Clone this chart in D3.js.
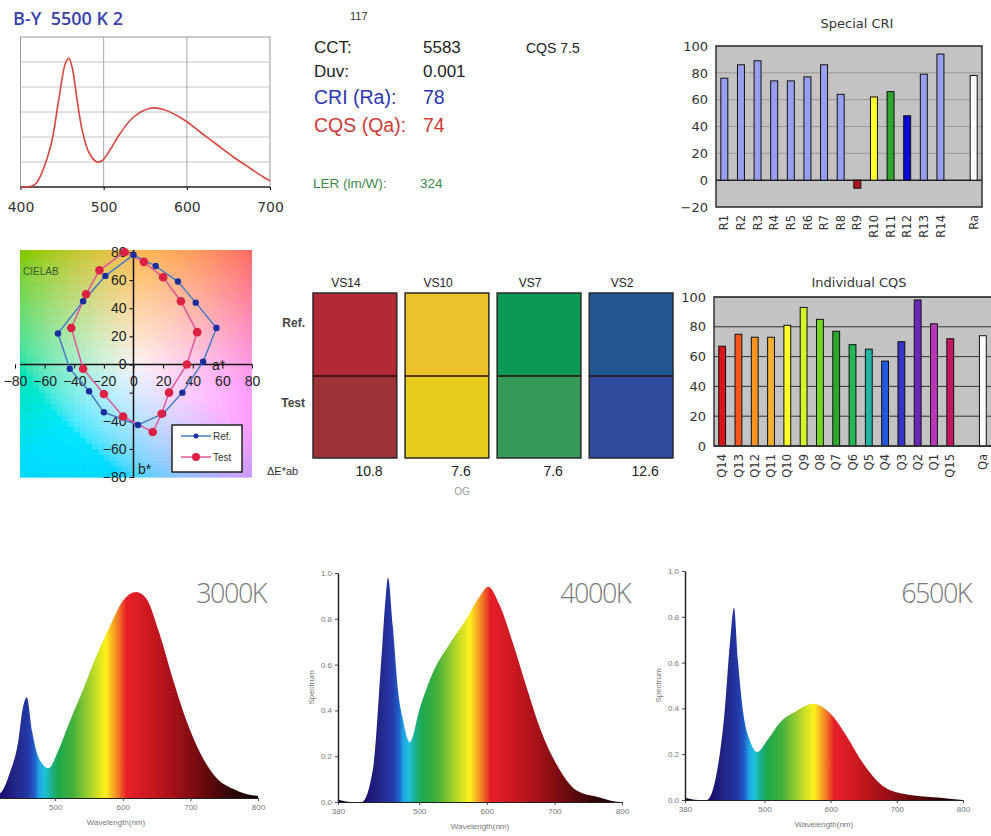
<!DOCTYPE html>
<html lang="en">
<head>
<meta charset="utf-8">
<title>B-Y 5500 K 2</title>
<script src="https://cdn.jsdelivr.net/npm/d3@7"></script>
<style>
  body { margin: 0; background: #fff; }
  svg { display: block; background: #fff; }
  text { font-family: "Liberation Sans", Arial, sans-serif; }
</style>
</head>
<body>
<svg id="chart" width="991" height="836"></svg>
<script>
// ---- data ----
// measured spectrum of the B-Y 5500 K source (relative)
var specWl  = [400, 415, 420, 436, 446, 454, 458, 462, 468, 474, 482, 492, 498, 508, 520, 536, 556, 572, 596, 616, 636, 656, 676, 692, 700];
var specVal = [0, 0.01, 0.04, 0.32, 0.70, 0.99, 1.03, 0.96, 0.70, 0.46, 0.28, 0.20, 0.21, 0.30, 0.43, 0.56, 0.63, 0.62, 0.54, 0.44, 0.34, 0.24, 0.15, 0.08, 0.05];

var metricLabels = ["CCT:", "Duv:", "CRI (Ra):", "CQS (Qa):"];
var metricValues = ["5583", "0.001", "78", "74"];
var lerValue = "324";
var cqsVersion = "CQS 7.5";

var criNames  = ["R1", "R2", "R3", "R4", "R5", "R6", "R7", "R8", "R9", "R10", "R11", "R12", "R13", "R14", "Ra"];
var criValues = [76, 86, 89, 74, 74, 77, 86, 64, -6, 62, 66, 48, 79, 94, 78];
var criTicks  = [-20, 0, 20, 40, 60, 80, 100];

var cqsNames  = ["Q14", "Q13", "Q12", "Q11", "Q10", "Q9", "Q8", "Q7", "Q6", "Q5", "Q4", "Q3", "Q2", "Q1", "Q15", "Qa"];
var cqsValues = [67, 75, 73, 73, 81, 93, 85, 77, 68, 65, 57, 70, 98, 82, 72, 74];
var cqsTicks  = [0, 20, 40, 60, 80, 100];

// CIELAB a*, b* of the 15 CQS samples
var refA  = [0, 15, 30, 42, 56, 47, 33, 20, 3, -20, -30, -43, -51, -34, -19];
var refB  = [78, 70, 59, 44, 26, 2, -20, -35, -43, -34, -19, -3, 22, 45, 63];
var testA = [-6, 7, 20, 32, 43, 36, 24, 19, 13, -7, -20, -34, -42, -32, -23];
var testB = [80, 73, 62, 45, 23, 0, -20, -35, -48, -37, -21, -3, 26, 50, 67];
var labTicks = [-80, -60, -40, -20, 0, 20, 40, 60, 80];

var vsNames = ["VS14", "VS10", "VS7", "VS2"];
var vsDeltaE = ["10.8", "7.6", "7.6", "12.6"];

// three reference LED spectra
var wl3000  = [380, 418, 433, 445, 452, 458, 466, 475, 490, 505, 521, 541, 561, 581, 600, 620, 635, 654, 674, 694, 714, 738, 763, 798, 800];
var val3000 = [0, 0.02, 0.11, 0.24, 0.39, 0.44, 0.29, 0.18, 0.13, 0.21, 0.33, 0.47, 0.62, 0.75, 0.86, 0.90, 0.87, 0.72, 0.52, 0.34, 0.20, 0.09, 0.04, 0.01, 0.01];
var wl4000  = [380, 400, 415, 432, 444, 451, 454, 461, 469, 476, 486, 501, 521, 545, 570, 590, 602, 619, 639, 659, 679, 704, 733, 767, 797, 800];
var val4000 = [0.01, 0, 0, 0.15, 0.62, 0.91, 0.98, 0.77, 0.48, 0.36, 0.26, 0.41, 0.57, 0.69, 0.80, 0.90, 0.94, 0.86, 0.69, 0.50, 0.32, 0.16, 0.05, 0.02, 0, 0];
var wl6500  = [380, 400, 413, 428, 440, 448, 454, 460, 468, 478, 489, 504, 524, 549, 573, 599, 624, 649, 675, 705, 766, 800];
var val6500 = [0.01, 0, 0, 0.12, 0.39, 0.69, 0.84, 0.61, 0.38, 0.26, 0.21, 0.26, 0.34, 0.39, 0.42, 0.38, 0.28, 0.16, 0.07, 0.03, 0.01, 0];
var cctLabels = ["3000K", "4000K", "6500K"];

// ---- styles ----
var criColors = ["#9a9ef0", "#9a9ef0", "#9a9ef0", "#9a9ef0", "#9a9ef0", "#9a9ef0", "#9a9ef0", "#9a9ef0",
                 "#b0141e", "#ffff30", "#2ea42e", "#0a0ad8", "#9a9ef0", "#9a9ef0", "#ffffff"];
var cqsColors = ["#d8141c", "#f2561c", "#f59422", "#f5b030", "#ffff26", "#d4f52a", "#7ad626", "#2aa62a",
                 "#22b856", "#20b4a6", "#2458dc", "#3434c8", "#6a28b8", "#b838b8", "#c41462", "#ffffff"];
var vsRefColors  = ["#b12a36", "#ecc22a", "#0a9a56", "#235792"];
var vsTestColors = ["#9d3338", "#e5cc1d", "#379a58", "#2e4b9e"];
var rainbow = [[380, "#0a0520"], [420, "#1a1070"], [445, "#222a8c"], [460, "#2438a8"], [470, "#2060c8"],
               [477, "#1ea8e6"], [485, "#20c0d8"], [495, "#1ab088"], [505, "#1ea84a"], [525, "#40b03c"],
               [545, "#8cc830"], [562, "#d0e024"], [575, "#fff01e"], [585, "#f8b020"], [595, "#f07028"],
               [605, "#e82028"], [640, "#cc1820"], [680, "#a01018"], [720, "#6a0a0e"], [760, "#300606"], [800, "#100202"]];

var svg = d3.select("#chart");
var defs = svg.append("defs");

// ===== top-left spectrum =====
(function() {
  var x = d3.scaleLinear().domain([400, 700]).range([20.5, 270]);
  var y = d3.scaleLinear().domain([0, 1.2]).range([187, 37]);
  var g = svg.append("g");

  svg.append("text").attr("x", 13).attr("y", 25).attr("fill", "#3a3fb0")
    .style("font-size", "18px").style("font-weight", "600").style("font-family", "'Open Sans', sans-serif")
    .style("white-space", "pre").text("B-Y  5500 K 2");

  g.append("rect").attr("x", x(400)).attr("y", y(1.2)).attr("width", x(700) - x(400)).attr("height", y(0) - y(1.2))
    .attr("fill", "#fff").attr("stroke", "#999");
  g.selectAll(".hg").data([0.2, 0.4, 0.6, 0.8, 1.0]).join("line")
    .attr("x1", x(400)).attr("x2", x(700)).attr("y1", d => y(d)).attr("y2", d => y(d)).attr("stroke", "#c4c4c4");
  g.selectAll(".vg").data([500, 600]).join("line")
    .attr("x1", d => x(d)).attr("x2", d => x(d)).attr("y1", y(1.2)).attr("y2", y(0)).attr("stroke", "#a8a8a8");
  g.append("line").attr("x1", x(400)).attr("x2", x(700)).attr("y1", y(0)).attr("y2", y(0)).attr("stroke", "#333").attr("stroke-width", 1.5);

  var ax = g.append("g").attr("transform", "translate(0," + y(0) + ")")
    .call(d3.axisBottom(x).tickValues([400, 500, 600, 700]).tickSize(3).tickPadding(12));
  ax.select(".domain").remove();
  ax.selectAll("text").style("font-size", "14px").attr("fill", "#333").style("font-family", "'DejaVu Sans', sans-serif");

  g.append("path").datum(specWl.map((w, i) => [w, specVal[i]]))
    .attr("d", d3.line().x(d => x(d[0])).y(d => y(d[1])).curve(d3.curveCatmullRom))
    .attr("fill", "none").attr("stroke", "#d9463f").attr("stroke-width", 1.6);
})();

// ===== metrics text =====
(function() {
  var g = svg.append("g").style("font-family", "'DejaVu Sans', sans-serif");
  var colors = ["#222", "#222", "#2c35b5", "#d03a3a"];
  var sizes = [17, 17, 19.5, 19.5];
  var ys = [53, 77, 104, 132];
  g.append("text").attr("x", 350).attr("y", 20).style("font-size", "11px").attr("fill", "#333").text("117");
  metricLabels.forEach(function(lbl, i) {
    g.append("text").attr("x", 314).attr("y", ys[i]).style("font-size", sizes[i] + "px").attr("fill", colors[i]).text(lbl);
    g.append("text").attr("x", 423).attr("y", ys[i]).style("font-size", sizes[i] + "px").attr("fill", colors[i]).text(metricValues[i]);
  });
  g.append("text").attr("x", 526).attr("y", 53).style("font-size", "14px").attr("fill", "#222").text(cqsVersion);
  g.append("text").attr("x", 313).attr("y", 188).style("font-size", "13.5px").attr("fill", "#3c8a4c").text("LER (lm/W):");
  g.append("text").attr("x", 420).attr("y", 188).style("font-size", "13.5px").attr("fill", "#3c8a4c").text(lerValue);
})();

// ===== bar chart helper =====
function barChart(opt) {
  var g = svg.append("g");
  var keys = opt.names.slice(0, -1).concat([" "], opt.names.slice(-1));
  var x = d3.scaleBand().domain(keys).range([opt.left, opt.right]).paddingInner(0.58).paddingOuter(0.29);
  var y = d3.scaleLinear().domain(opt.domain).range([opt.bottom, opt.top]);

  g.append("text").attr("x", opt.titleX).attr("y", opt.titleY).attr("text-anchor", "middle")
    .style("font-size", "13px").style("font-family", "'DejaVu Sans', sans-serif").attr("fill", "#333").text(opt.title);

  g.append("rect").attr("x", opt.left).attr("y", opt.top).attr("width", opt.right - opt.left).attr("height", opt.bottom - opt.top)
    .attr("fill", "#c3c3c3");
  g.selectAll(".grid").data(opt.ticks).join("line")
    .attr("x1", opt.left).attr("x2", opt.right).attr("y1", d => y(d)).attr("y2", d => y(d))
    .attr("stroke", d => d === 0 ? "#222" : opt.gridColor).attr("stroke-width", d => d === 0 ? 1.5 : 1);

  g.selectAll(".bar").data(opt.values).join("rect")
    .attr("x", (d, i) => x(opt.names[i]))
    .attr("width", x.bandwidth())
    .attr("y", d => y(Math.max(0, d)))
    .attr("height", d => Math.abs(y(d) - y(0)))
    .attr("fill", (d, i) => opt.colors[i]).attr("stroke", "#111").attr("stroke-width", 1);

  var border = g.append("path").attr("fill", "none").attr("stroke", "#333").attr("stroke-width", 1.5);
  border.attr("d", opt.openRight
    ? "M" + opt.right + "," + opt.top + "H" + opt.left + "V" + opt.bottom + "H" + opt.right
    : "M" + opt.left + "," + opt.top + "H" + opt.right + "V" + opt.bottom + "H" + opt.left + "Z");

  var ay = g.append("g").attr("transform", "translate(" + opt.left + ",0)")
    .call(d3.axisLeft(y).tickValues(opt.ticks).tickSize(0).tickPadding(8));
  ay.select(".domain").remove();
  ay.selectAll("text").style("font-size", "13px").style("font-family", "'DejaVu Sans', sans-serif").attr("fill", "#333");

  var ax = g.append("g").attr("transform", "translate(0," + opt.bottom + ")")
    .call(d3.axisBottom(x).tickSize(0));
  ax.select(".domain").remove();
  ax.selectAll("text")
    .attr("transform", "rotate(-90)")
    .attr("x", -8).attr("y", 0).attr("dy", "0.36em")
    .attr("text-anchor", "end")
    .style("font-size", "11.5px").style("font-family", "'DejaVu Sans', sans-serif").attr("fill", "#333");
}

barChart({ names: criNames, values: criValues, colors: criColors, ticks: criTicks, domain: [-20, 100],
  left: 716, right: 982, top: 46, bottom: 207, title: "Special CRI", titleX: 857, titleY: 28, gridColor: "#999" });
barChart({ names: cqsNames, values: cqsValues, colors: cqsColors, ticks: cqsTicks, domain: [0, 100],
  left: 714, right: 991, top: 297, bottom: 446, title: "Individual CQS", titleX: 859, titleY: 287, gridColor: "#333", openRight: true });

// ===== CIELAB =====
(function() {
  var x = d3.scaleLinear().domain([-80, 80]).range([15, 252]);
  var y = d3.scaleLinear().domain([-80, 80]).range([477, 252]);
  var g = svg.append("g");

  defs.append("clipPath").attr("id", "labclip").append("rect")
    .attr("x", 20).attr("y", 250).attr("width", 232).attr("height", 228);
  var cells = [];
  for (var a = -80; a < 80; a += 4) for (var b = -80; b < 84; b += 4) cells.push([a + 2, b + 2]);
  var rot = -14 * Math.PI / 180;
  g.append("g").attr("clip-path", "url(#labclip)").selectAll("rect").data(cells).join("rect")
    .attr("x", d => x(d[0] - 2)).attr("y", d => y(d[1] + 2))
    .attr("width", x(4) - x(0) + 0.6).attr("height", y(0) - y(4) + 0.6)
    .attr("fill", function(d) {
      var r = Math.sqrt(d[0] * d[0] + d[1] * d[1]);
      var aa = d[0] * Math.cos(rot) - d[1] * Math.sin(rot);
      var bb = d[0] * Math.sin(rot) + d[1] * Math.cos(rot);
      return d3.lab(96 - 0.2 * r, aa * 0.78, bb * 0.78).formatHex();
    });

  g.append("text").attr("x", 23).attr("y", 275).style("font-size", "10px").attr("fill", "#355a35").text("CIELAB");

  var ax = g.append("g").attr("transform", "translate(0," + y(0) + ")")
    .call(d3.axisBottom(x).tickValues(labTicks).tickSize(4).tickSizeOuter(0).tickPadding(8));
  ax.select(".domain").attr("d", "M20,0H252").attr("stroke", "#111").attr("stroke-width", 1.5);
  ax.selectAll("text").style("font-size", "14px").attr("fill", "#222");
  var ay = g.append("g").attr("transform", "translate(" + x(0) + ",0)")
    .call(d3.axisLeft(y).tickValues(labTicks).tickSize(4).tickSizeOuter(0).tickPadding(3));
  ay.select(".domain").attr("d", "M0,250V478").attr("stroke", "#111").attr("stroke-width", 1.5);
  ay.selectAll("text").style("font-size", "14px").attr("fill", "#222");
  // the -20 label on b* sits under the a* tick row
  ay.selectAll(".tick").filter(d => d === -20).select("text").remove();

  g.append("text").attr("x", 212).attr("y", 370).style("font-size", "14px").attr("fill", "#222").text("a*");
  g.append("text").attr("x", 138).attr("y", 474).style("font-size", "14px").attr("fill", "#222").text("b*");

  var line = d3.line().x(d => x(d[0])).y(d => y(d[1])).curve(d3.curveLinearClosed);
  var ref = refA.map((a, i) => [a, refB[i]]);
  var test = testA.map((a, i) => [a, testB[i]]);
  g.append("path").datum(ref).attr("d", line).attr("fill", "none").attr("stroke", "#4a7cc4").attr("stroke-width", 1.5);
  g.append("path").datum(test).attr("d", line).attr("fill", "none").attr("stroke", "#e0589a").attr("stroke-width", 1.5);
  g.selectAll(".rp").data(ref).join("circle").attr("cx", d => x(d[0])).attr("cy", d => y(d[1])).attr("r", 3.2).attr("fill", "#1a2ea0");
  g.selectAll(".tp").data(test).join("circle").attr("cx", d => x(d[0])).attr("cy", d => y(d[1])).attr("r", 4.3).attr("fill", "#dc2244");

  var lg = g.append("g");
  lg.append("rect").attr("x", 172).attr("y", 425).attr("width", 70).attr("height", 47).attr("fill", "#fff").attr("stroke", "#222").attr("stroke-width", 1.5);
  [["Ref.", "#4a7cc4", "#1a2ea0", 2.5, 436], ["Test", "#e0589a", "#dc2244", 4, 457]].forEach(function(e) {
    lg.append("line").attr("x1", 181).attr("x2", 211).attr("y1", e[4]).attr("y2", e[4]).attr("stroke", e[1]).attr("stroke-width", 1.5);
    lg.append("circle").attr("cx", 196).attr("cy", e[4]).attr("r", e[3]).attr("fill", e[2]);
    lg.append("text").attr("x", 213).attr("y", e[4] + 3.5).style("font-size", "10px").attr("fill", "#333").text(e[0]);
  });
})();

// ===== swatches =====
(function() {
  var g = svg.append("g");
  var x = d3.scaleBand().domain(vsNames).range([313, 673]).paddingInner(0.09);
  var top = 293, mid = 376, bottom = 458;
  var cols = g.selectAll(".vs").data(vsNames).join("g");
  cols.append("rect").attr("x", d => x(d)).attr("y", top).attr("width", x.bandwidth()).attr("height", mid - top)
    .attr("fill", (d, i) => vsRefColors[i]);
  cols.append("rect").attr("x", d => x(d)).attr("y", mid).attr("width", x.bandwidth()).attr("height", bottom - mid)
    .attr("fill", (d, i) => vsTestColors[i]);
  cols.append("rect").attr("x", d => x(d)).attr("y", top).attr("width", x.bandwidth()).attr("height", bottom - top)
    .attr("fill", "none").attr("stroke", "#2a2a2a").attr("stroke-width", 1.5);
  cols.append("line").attr("x1", d => x(d)).attr("x2", d => x(d) + x.bandwidth()).attr("y1", mid).attr("y2", mid)
    .attr("stroke", "#2a0a0a").attr("stroke-width", 1.5);
  cols.append("text").attr("x", d => x(d) + 33).attr("y", 287).attr("text-anchor", "middle")
    .style("font-size", "12px").attr("fill", "#222").text(d => d);
  cols.append("text").attr("x", d => x(d) + 56).attr("y", 476).attr("text-anchor", "middle")
    .style("font-size", "14px").attr("fill", "#222").text((d, i) => vsDeltaE[i]);

  g.append("text").attr("x", 305).attr("y", 327).attr("text-anchor", "end").style("font-size", "12px").style("font-weight", "bold").attr("fill", "#444").text("Ref.");
  g.append("text").attr("x", 305).attr("y", 407).attr("text-anchor", "end").style("font-size", "12px").style("font-weight", "bold").attr("fill", "#444").text("Test");
  g.append("text").attr("x", 267).attr("y", 475).style("font-size", "11px").attr("fill", "#333").text("\u0394E*ab");
  g.append("text").attr("x", 462).attr("y", 495).attr("text-anchor", "middle").style("font-size", "10px").attr("fill", "#999").text("OG");
})();

// ===== bottom LED spectra =====
function ledSpectrum(idx, wl, val, left, right, base, showY) {
  var x = d3.scaleLinear().domain([380, 800]).range([left, right]);
  var y = d3.scaleLinear().domain([0, 1]).range([base, base - 229]);
  var g = svg.append("g");

  var gid = "rb" + idx;
  defs.append("linearGradient").attr("id", gid).attr("gradientUnits", "userSpaceOnUse")
    .attr("x1", x(380)).attr("x2", x(800)).attr("y1", 0).attr("y2", 0)
    .selectAll("stop").data(rainbow).join("stop")
    .attr("offset", d => (d[0] - 380) / 420).attr("stop-color", d => d[1]);

  var pts = wl.map((w, i) => [w, val[i]]);
  g.append("path").datum(pts)
    .attr("d", d3.area().x(d => x(d[0])).y0(y(0)).y1(d => y(Math.max(0, d[1]))).curve(d3.curveMonotoneX))
    .attr("fill", "url(#" + gid + ")");

  var ax = g.append("g").attr("transform", "translate(0," + y(0) + ")")
    .call(d3.axisBottom(x).tickValues(showY ? [380, 500, 600, 700, 800] : [500, 600, 700, 800]).tickSize(3).tickSizeOuter(0));
  ax.select(".domain").attr("stroke", "#222").attr("stroke-width", 1.2);
  ax.selectAll("text").style("font-size", "8px").attr("fill", "#777");
  ax.selectAll("line").attr("stroke", "#444");
  g.append("text").attr("x", (x(380) + x(800)) / 2).attr("y", base + 27).attr("text-anchor", "middle")
    .style("font-size", "8px").attr("fill", "#777").text("Wavelength(nm)");

  if (showY) {
    var ay = g.append("g").attr("transform", "translate(" + x(380) + ",0)")
      .call(d3.axisLeft(y).tickValues([0, 0.2, 0.4, 0.6, 0.8, 1.0]).tickFormat(d3.format(".1f")).tickSize(3).tickSizeOuter(0));
    ay.select(".domain").attr("stroke", "#222").attr("stroke-width", 1.5);
    ay.selectAll("text").style("font-size", "8px").attr("fill", "#777");
    ay.selectAll("line").attr("stroke", "#444");
    g.append("text").attr("transform", "translate(" + (x(380) - 24) + "," + y(0.5) + ") rotate(-90)")
      .attr("text-anchor", "middle").style("font-size", "8px").attr("fill", "#777").text("Spectrum");
  }

  g.append("text").attr("x", right + 8).attr("y", 603).attr("text-anchor", "end")
    .style("font-size", "27px").style("font-family", "'Open Sans', sans-serif").style("font-weight", "300")
    .style("letter-spacing", "-1.5px").attr("fill", "#7a7a7a").text(cctLabels[idx]);
}

ledSpectrum(0, wl3000, val3000, -26, 258, 798, false);
ledSpectrum(1, wl4000, val4000, 338, 622, 802, true);
ledSpectrum(2, wl6500, val6500, 685, 963, 800, true);
</script>
</body>
</html>
